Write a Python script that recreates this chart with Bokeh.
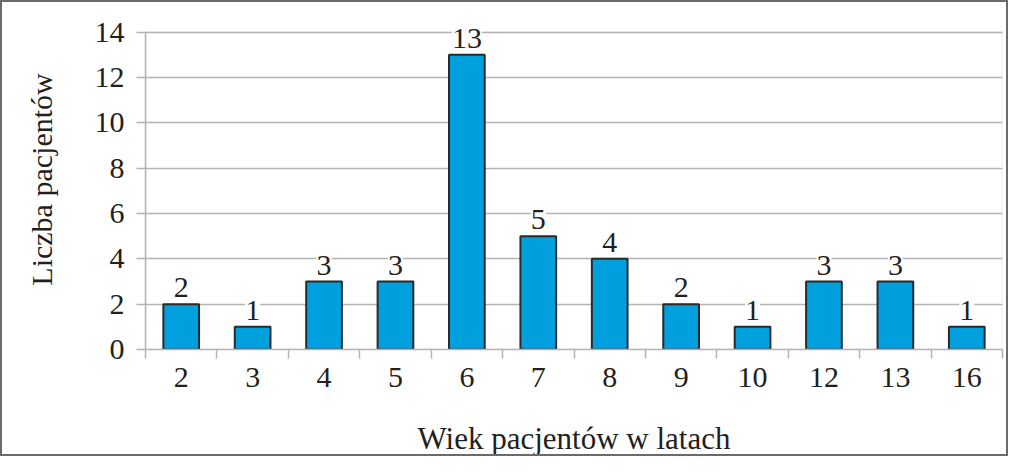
from bokeh.plotting import figure
from bokeh.models import (Range1d, FixedTicker, ColumnDataSource, LabelSet, BoxAnnotation)
from bokeh.embed import file_html
from bokeh.resources import INLINE

# ---- data ----
ages = ["2", "3", "4", "5", "6", "7", "8", "9", "10", "12", "13", "16"]
counts = [2, 1, 3, 3, 13, 5, 4, 2, 1, 3, 3, 1]
y_ticks = [0, 2, 4, 6, 8, 10, 12, 14]
y_max = 14
x_title = "Wiek pacjentów w latach"
y_title = "Liczba pacjentów"

FONT = "Liberation Serif"
TXT = "#231f20"
GRID = "#b4b4b4"
BAR = "#00a0de"

pos = list(range(len(ages)))
src = ColumnDataSource(dict(x=pos, y=counts, lab=[str(c) for c in counts]))

x_lo, x_hi = -0.5, len(ages) - 0.5

p = figure(width=1008, height=456, output_backend="svg", toolbar_location=None,
           x_range=Range1d(x_lo, x_hi), y_range=Range1d(0, y_max + 1),
           min_border_left=143, min_border_right=8, min_border_top=7,
           min_border_bottom=109)

p.styles = {"border": "2px solid #6a6a6a", "box-sizing": "border-box"}

p.outline_line_color = None
p.background_fill_color = "white"
p.border_fill_color = "white"

# grid
p.xgrid.visible = False
p.ygrid.ticker = FixedTicker(ticks=y_ticks)
p.ygrid.grid_line_color = GRID
p.ygrid.grid_line_width = 1.5

# plot-area box (0..14)
p.add_layout(BoxAnnotation(left=x_lo, right=x_hi, bottom=0, top=y_max,
                           fill_color=None, line_color=GRID, line_width=1.5,
                           level="underlay"))

p.vbar(x="x", top="y", width=0.5, source=src, fill_color=BAR,
       line_color="#2a2a2a", line_width=2)

labels = LabelSet(x="x", y="y", text="lab", source=src, text_align="center",
                  text_baseline="alphabetic", y_offset=7,
                  text_font=FONT, text_font_size="30px", text_color=TXT,
                  background_fill_color="white")
p.add_layout(labels)

# y axis
ya = p.yaxis[0]
ya.ticker = FixedTicker(ticks=y_ticks)
ya.bounds = (0, y_max)
ya.axis_line_color = GRID
ya.axis_line_width = 1.5
ya.major_tick_line_color = GRID
ya.major_tick_line_width = 1.5
ya.major_tick_out = 9
ya.major_tick_in = 0
ya.minor_tick_line_color = None
ya.major_label_standoff = 12
ya.major_label_text_font = FONT
ya.major_label_text_font_size = "30px"
ya.major_label_text_color = TXT
ya.axis_label = y_title
ya.axis_label_text_font = FONT
ya.axis_label_text_font_size = "30px"
ya.axis_label_text_font_style = "normal"
ya.axis_label_text_color = TXT
ya.axis_label_standoff = 34

# x axis
xa = p.xaxis[0]
xa.ticker = FixedTicker(ticks=pos, minor_ticks=[i - 0.5 for i in range(len(ages) + 1)])
xa.major_label_overrides = {i: a for i, a in zip(pos, ages)}
xa.axis_line_color = GRID
xa.axis_line_width = 1.5
xa.major_tick_line_color = None
xa.minor_tick_line_color = GRID
xa.minor_tick_line_width = 1.5
xa.minor_tick_out = 9
xa.minor_tick_in = 0
xa.major_label_standoff = 9
xa.major_label_text_font = FONT
xa.major_label_text_font_size = "30px"
xa.major_label_text_color = TXT
xa.axis_label = x_title
xa.axis_label_text_font = FONT
xa.axis_label_text_font_size = "31px"
xa.axis_label_text_font_style = "normal"
xa.axis_label_text_color = TXT
xa.axis_label_standoff = 31

open("out.html", "w").write(file_html(p, INLINE))
